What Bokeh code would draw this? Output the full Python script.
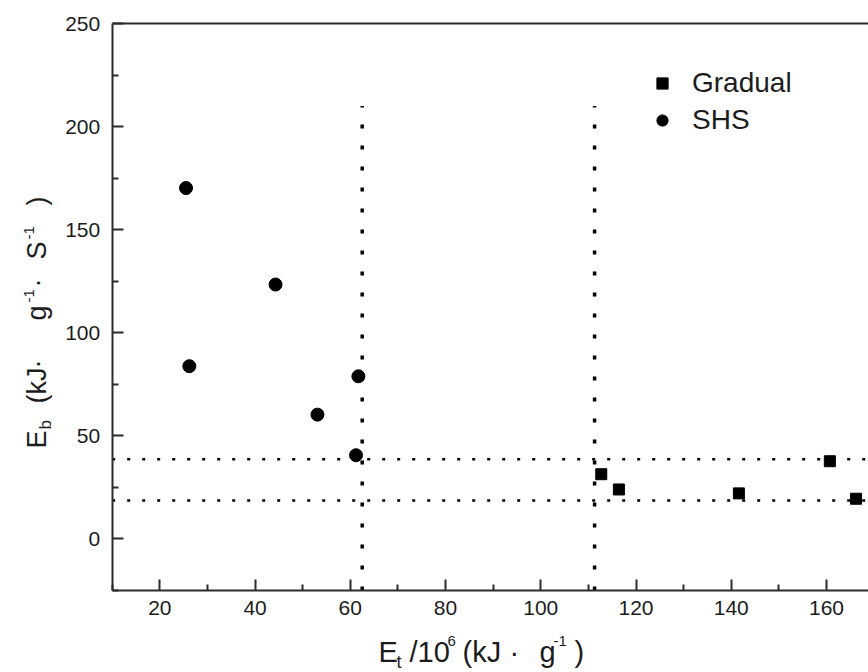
import math
from bokeh.plotting import figure
from bokeh.models import (Range1d, FixedTicker, LinearAxis, Label,
                          Legend, LegendItem)
from bokeh.embed import file_html
from bokeh.resources import INLINE

# ---------------- data ----------------
shs_x = [25.5, 44.3, 26.2, 53.1, 61.7, 61.2]
shs_y = [170.2, 123.4, 83.8, 60.3, 78.9, 40.6]
grad_x = [112.7, 116.4, 141.6, 160.7, 166.2]
grad_y = [31.4, 24.0, 22.1, 37.7, 19.5]
h_levels = [38.7, 18.6]          # horizontal dotted reference lines (E_b)
h_start = [10, 10]
h_end = [172, 172]
v_levels = [62.5, 111.3]         # vertical dotted reference lines (E_t)
v_top = [210, 210]
v_bottom = [-25, -25]
x_bounds = (10, 172)
y_bounds = (-25, 250)
x_major = [20, 40, 60, 80, 100, 120, 140, 160]
x_minor = [10, 30, 50, 70, 90, 110, 130, 150, 170]
y_major = [0, 50, 100, 150, 200, 250]
y_minor = [-25, 25, 75, 125, 175, 225]
series_names = ["Gradual", "SHS"]

W, H = 868, 672
# pixel geometry of the axes box inside the page
BOX_L, BOX_T, BOX_B = 111.7, 23.0, 590.0
PX_X = 4.762                     # pixels per x unit
PX_Y = (BOX_B - BOX_T) / (y_bounds[1] - y_bounds[0])
x0 = x_bounds[0] - BOX_L / PX_X
x1 = x_bounds[0] + (W - BOX_L) / PX_X
y0 = y_bounds[0] - (H - BOX_B) / PX_Y
y1 = y_bounds[1] + BOX_T / PX_Y

FONT = "Liberation Sans"
INK = "#1c1c1c"
AXC = "#2b2b2b"

p = figure(width=W, height=H, output_backend="svg", toolbar_location=None,
           x_range=Range1d(x0, x1), y_range=Range1d(y0, y1),
           min_border=0, x_axis_location=None, y_axis_location=None)
p.outline_line_color = None
p.grid.visible = False
p.background_fill_color = "white"
p.border_fill_color = "white"


def style_axis(ax, major, minor, standoff):
    ax.ticker = FixedTicker(ticks=major, minor_ticks=minor)
    ax.axis_line_width = 2
    ax.axis_line_color = AXC
    ax.major_tick_line_color = AXC
    ax.major_tick_line_width = 2
    ax.major_tick_in = 11
    ax.major_tick_out = 0
    ax.minor_tick_line_color = AXC
    ax.minor_tick_line_width = 2
    ax.minor_tick_in = 6
    ax.minor_tick_out = 0
    ax.major_label_text_font = FONT
    ax.major_label_text_font_size = "21px"
    ax.major_label_text_color = INK
    ax.major_label_standoff = standoff


xa = LinearAxis(fixed_location=y_bounds[0], bounds=x_bounds)
style_axis(xa, x_major, x_minor, 10)
p.add_layout(xa, "below")
ya = LinearAxis(fixed_location=x_bounds[0], bounds=y_bounds)
style_axis(ya, y_major, y_minor, 12)
p.add_layout(ya, "left")
top = LinearAxis(fixed_location=y_bounds[1], bounds=x_bounds,
                 ticker=FixedTicker(ticks=[], minor_ticks=[]),
                 axis_line_width=2, axis_line_color=AXC,
                 major_label_text_font_size="0px")
p.add_layout(top, "above")

# reference lines
p.segment(x0=h_start, y0=h_levels, x1=h_end, y1=h_levels,
          line_color="black", line_width=2.5, line_dash="3 12")
p.segment(x0=v_levels, y0=v_bottom, x1=v_levels, y1=v_top,
          line_color="black", line_width=3.5, line_dash="4 17")

# data
r_g = p.scatter(grad_x, grad_y, marker="square", size=11, color="black")
r_s = p.scatter(shs_x, shs_y, marker="circle", size=13, color="black")

leg = Legend(items=[LegendItem(label=series_names[0], renderers=[r_g]),
                    LegendItem(label=series_names[1], renderers=[r_s])],
             location=(648, 536), orientation="vertical",
             glyph_width=28, glyph_height=28, label_height=28,
             label_standoff=16, spacing=5, padding=0, margin=0,
             border_line_color=None, background_fill_alpha=0,
             label_text_font=FONT, label_text_font_size="28px",
             label_text_color=INK)
p.add_layout(leg, "center")


def piece(text, px, py, size, angle=0.0):
    """Axis-title text piece; (px, py) = page pixel of its start on the baseline."""
    shift = 0.25 * size + 4          # renderer's baseline offset, measured
    if angle == 0.0:
        py = py - shift
    else:
        px = px - shift
    p.add_layout(Label(x=px, y=H - py, x_units="screen", y_units="screen",
                       text=text, angle=angle, text_font=FONT,
                       text_font_size=f"{size}px", text_color=INK,
                       text_align="left", text_baseline="alphabetic"))


# x title: E_t /10^6 (kJ ·  g^-1)
piece("E", 378, 663, 29)
piece("t", 396, 670, 18)
piece("/10", 409, 663, 29)
piece("6", 447, 648, 15)
piece("(kJ", 462, 663, 29)
piece("·", 509, 663, 29)
piece("g", 539, 663, 29)
piece("-1", 553, 648, 15)
piece(")", 574, 663, 29)

# y title: E_b (kJ· g^-1·  S^-1), rotated (reads bottom to top)
A = math.pi / 2
BX = 47
piece("E", BX, 448, 27, A)
piece("b", BX + 6, 429, 17, A)
piece("(kJ", BX, 403, 27, A)
piece("·", BX, 368, 27, A)
piece("g", BX, 320, 27, A)
piece("-1", BX - 11, 302, 15, A)
piece("·", BX, 287, 27, A)
piece("S", BX, 259, 27, A)
piece("-1", BX - 11, 239, 15, A)
piece(")", BX, 205, 27, A)

open("out.html", "w").write(file_html(p, INLINE))
